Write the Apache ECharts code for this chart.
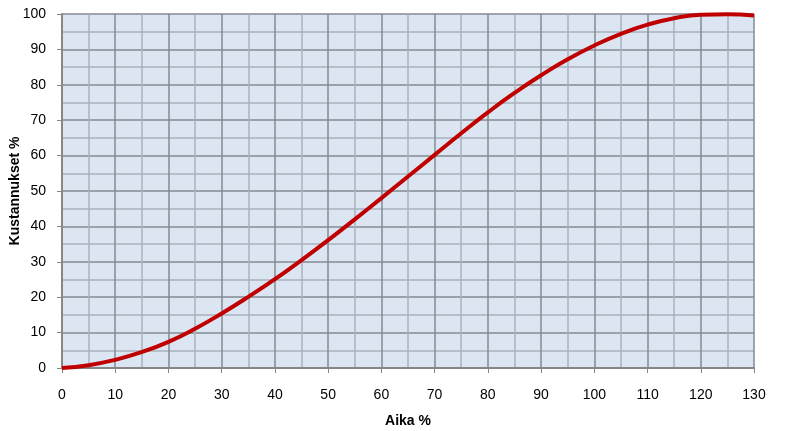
<!DOCTYPE html>
<html>
<head>
<meta charset="utf-8">
<script src="https://cdn.jsdelivr.net/npm/echarts@6/dist/echarts.min.js"></script>
<style>html,body{margin:0;padding:0;background:#fff}#c{width:795px;height:431px}</style>
</head>
<body>
<div id="c"></div>
<script>
var timePct = [0, 5, 10, 15, 20, 25, 30, 35, 40, 45, 50, 55, 60, 65, 70, 75, 80, 85, 90, 95, 100, 105, 110, 115, 120, 125, 130];
var costPct = [0, 0.8, 2.3, 4.5, 7.4, 11.1, 15.4, 20.1, 25.1, 30.5, 36.1, 42.0, 48.0, 54.1, 60.2, 66.3, 72.2, 77.7, 82.7, 87.2, 91.1, 94.4, 97.0, 98.8, 99.8, 99.9, 99.6];
var xTitle = 'Aika %';
var yTitle = 'Kustannukset %';

var chart = echarts.init(document.getElementById('c'), null, {renderer: 'canvas'});
var font = 'Liberation Sans';
chart.setOption({
  animation: false,
  backgroundColor: '#ffffff',
  grid: {left: 62, right: 41, top: 14, bottom: 63, show: true, backgroundColor: '#dce6f2', borderWidth: 0, containLabel: false, outerBoundsMode: 'none'},
  xAxis: {
    type: 'value', min: 0, max: 130, interval: 10,
    name: xTitle, nameLocation: 'middle', nameGap: 46, nameMoveOverlap: false,
    nameTextStyle: {fontFamily: font, fontSize: 14, fontWeight: 'bold', color: '#000'},
    axisLine: {show: true, onZero: false, lineStyle: {color: '#868686', width: 2}},
    axisTick: {show: true, length: 5, lineStyle: {color: '#868686', width: 1}},
    axisLabel: {fontFamily: font, fontSize: 14, color: '#000', margin: 20},
    splitLine: {show: true, lineStyle: {color: '#838a92', width: 1.5}},
    minorTick: {show: false, splitNumber: 2},
    minorSplitLine: {show: true, lineStyle: {color: '#a9b2bc', width: 1.5}}
  },
  yAxis: {
    type: 'value', min: 0, max: 100, interval: 10,
    name: yTitle, nameLocation: 'middle', nameGap: 40, nameMoveOverlap: false,
    nameTextStyle: {fontFamily: font, fontSize: 14, fontWeight: 'bold', color: '#000'},
    axisLine: {show: true, lineStyle: {color: '#868686', width: 2}},
    axisTick: {show: true, length: 5, lineStyle: {color: '#868686', width: 1}},
    axisLabel: {fontFamily: font, fontSize: 14, color: '#000', margin: 16},
    splitLine: {show: true, lineStyle: {color: '#838a92', width: 1.5}},
    minorTick: {show: false, splitNumber: 2},
    minorSplitLine: {show: true, lineStyle: {color: '#a9b2bc', width: 1.5}}
  },
  series: [{
    type: 'line',
    data: timePct.map(function (x, i) { return [x, costPct[i]]; }),
    smooth: 0.5,
    showSymbol: false,
    symbol: 'none',
    clip: false,
    lineStyle: {color: '#c00000', width: 4}
  }]
});
</script>
</body>
</html>
